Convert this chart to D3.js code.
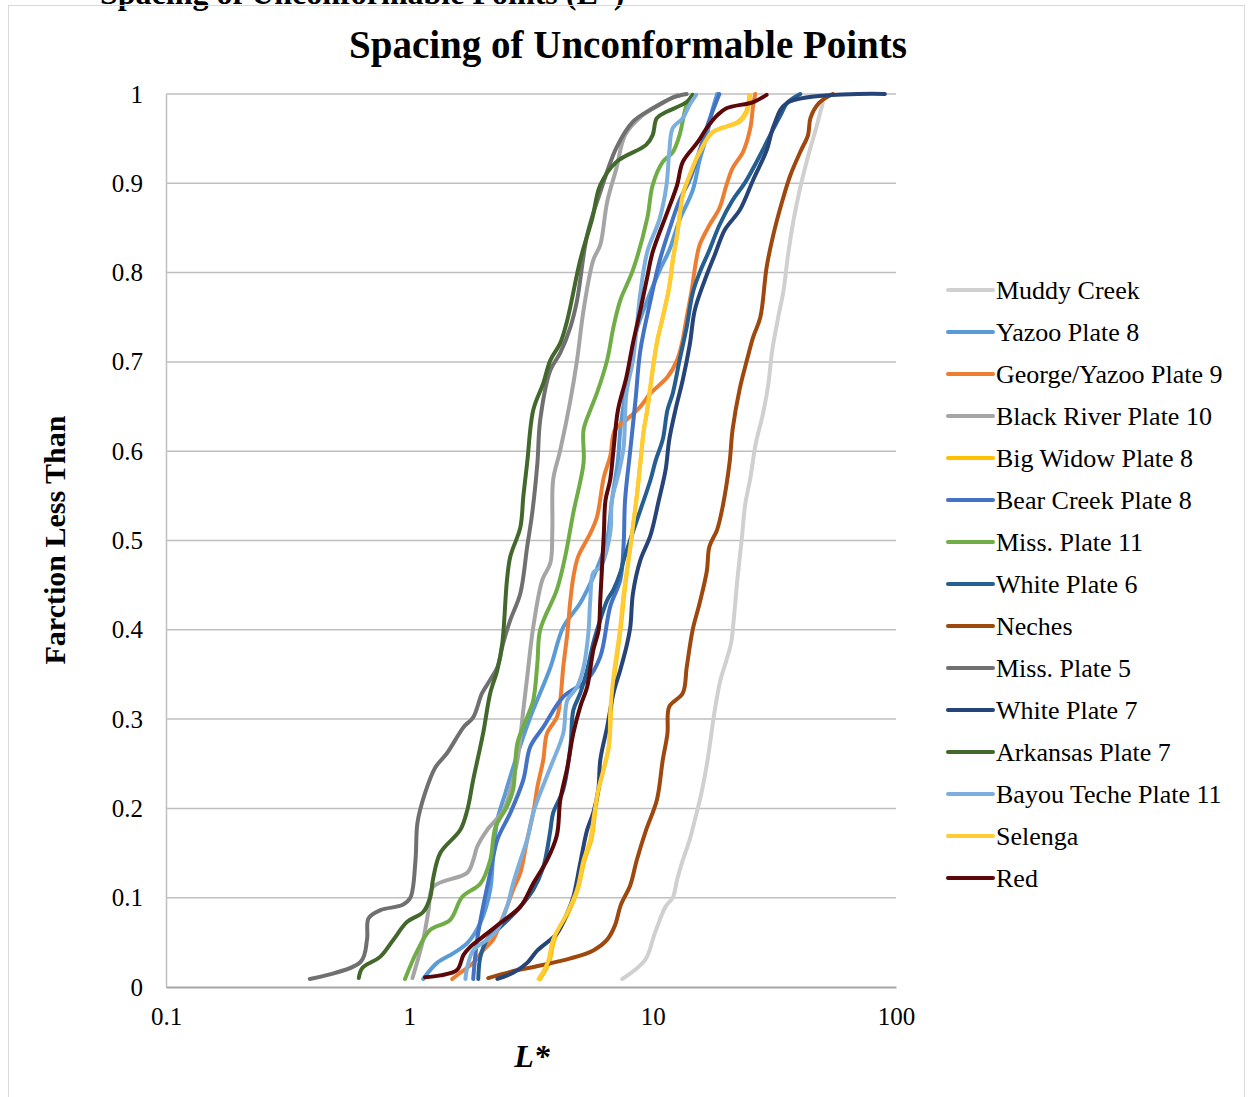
<!DOCTYPE html>
<html>
<head>
<meta charset="utf-8">
<script src="https://cdn.jsdelivr.net/npm/d3@7"></script>
<style>
  html, body { margin: 0; padding: 0; background: #fff; }
  svg { display: block; font-family: "Liberation Serif", "Times New Roman", serif; }
</style>
</head>
<body>
<div id="chart"></div>
<script>
// Series values: [L*, fraction less than]
const muddyCreek = [[7.5,0.009],[9.3,0.03],[10.2,0.06],[11.3,0.09],[12.1,0.1],[12.6,0.12],[13.3,0.142],[14.2,0.165],[15.0,0.19],[15.8,0.215],[16.6,0.245],[17.3,0.277],[18.0,0.31],[19.0,0.344],[20.1,0.366],[21.0,0.385],[21.6,0.415],[22.3,0.457],[23.2,0.5],[24.0,0.54],[25.2,0.57],[26.5,0.608],[28.3,0.64],[29.8,0.673],[31.0,0.713],[32.8,0.75],[34.5,0.78],[36.0,0.82],[38.0,0.86],[40.4,0.895],[44.0,0.935],[47.0,0.962],[48.9,0.98],[50.0,0.99]];
const yazooPlate8 = [[1.14,0.009],[1.30,0.027],[1.52,0.038],[1.73,0.049],[1.96,0.072],[2.15,0.109],[2.21,0.146],[2.30,0.187],[2.48,0.217],[2.73,0.254],[3.14,0.302],[3.80,0.358],[4.29,0.403],[5.04,0.43],[5.7,0.459],[6.09,0.478],[6.5,0.501],[6.8,0.545],[7.2,0.59],[7.36,0.624],[7.7,0.663],[8.09,0.702],[8.6,0.736],[9.5,0.769],[10.7,0.803],[11.7,0.825],[12.9,0.859],[14.6,0.892],[15.6,0.926],[16.7,0.954],[17.6,0.982],[18.4,1.0]];
const georgeYazooPlate9 = [[1.50,0.009],[1.62,0.016],[1.83,0.027],[2.01,0.041],[2.21,0.053],[2.37,0.072],[2.52,0.09],[2.67,0.109],[2.86,0.128],[3.05,0.165],[3.23,0.195],[3.36,0.224],[3.55,0.254],[3.68,0.284],[4.04,0.302],[4.17,0.321],[4.29,0.358],[4.46,0.396],[4.59,0.433],[4.72,0.459],[4.94,0.482],[5.54,0.508],[5.9,0.526],[6.3,0.571],[6.69,0.594],[7.0,0.624],[7.8,0.635],[8.9,0.65],[9.8,0.665],[11.5,0.683],[12.6,0.702],[13.2,0.721],[13.8,0.75],[14.4,0.777],[15.1,0.814],[15.6,0.831],[17.1,0.853],[18.8,0.872],[20.1,0.898],[21.3,0.917],[23.5,0.935],[25.2,0.962],[25.9,0.988],[26.4,1.0]];
const blackRiverPlate10 = [[1.03,0.01],[1.14,0.053],[1.2,0.086],[1.25,0.112],[1.73,0.128],[1.83,0.142],[1.90,0.157],[2.09,0.176],[2.44,0.198],[2.60,0.221],[2.78,0.254],[2.94,0.31],[3.05,0.347],[3.23,0.403],[3.52,0.456],[3.80,0.475],[3.87,0.512],[3.9,0.568],[4.17,0.601],[4.59,0.657],[4.89,0.702],[5.2,0.758],[5.7,0.814],[6.09,0.831],[6.5,0.879],[7.1,0.917],[7.7,0.954],[8.9,0.974],[10.7,0.988],[12.6,0.999]];
const bigWidowPlate8 = [[3.45,0.009],[3.75,0.027],[3.95,0.053],[4.5,0.083],[4.92,0.109],[5.25,0.142],[5.6,0.165],[5.8,0.195],[6.0,0.221],[6.6,0.269],[6.75,0.31],[6.95,0.347],[7.4,0.403],[7.65,0.441],[8.1,0.493],[8.6,0.549],[8.9,0.587],[9.2,0.624],[9.5,0.646],[10.0,0.691],[10.4,0.721],[11.0,0.75],[11.7,0.784],[12.1,0.814],[12.6,0.842],[13.3,0.887],[14.2,0.909],[15.6,0.935],[17.6,0.957],[22.5,0.969],[24.2,0.98],[25.0,0.999]];
const bearCreekPlate8 = [[1.83,0.009],[1.90,0.053],[2.01,0.09],[2.15,0.128],[2.30,0.165],[2.6,0.195],[2.94,0.232],[3.14,0.269],[3.55,0.291],[4.29,0.325],[5.38,0.344],[6.09,0.37],[6.69,0.426],[7.36,0.456],[7.6,0.497],[7.7,0.545],[8.09,0.601],[8.5,0.657],[8.9,0.713],[9.8,0.769],[10.7,0.814],[11.7,0.848],[12.9,0.881],[14.2,0.904],[15.6,0.937],[17.1,0.971],[18.8,1.0]];
const missPlate11 = [[0.96,0.009],[1.08,0.041],[1.22,0.064],[1.47,0.075],[1.65,0.101],[1.96,0.116],[2.15,0.142],[2.26,0.179],[2.52,0.202],[2.67,0.221],[2.78,0.273],[3.05,0.302],[3.23,0.321],[3.36,0.363],[3.45,0.4],[4.04,0.445],[4.37,0.482],[4.72,0.531],[5.2,0.587],[5.2,0.624],[5.54,0.646],[5.9,0.665],[6.5,0.702],[6.9,0.739],[7.36,0.769],[8.3,0.803],[9.5,0.861],[10.0,0.898],[11.0,0.924],[12.1,0.935],[12.9,0.954],[13.8,0.988],[14.6,0.999]];
const whitePlate6 = [[1.92,0.009],[1.96,0.034],[2.09,0.053],[2.30,0.064],[2.60,0.078],[2.86,0.09],[3.23,0.109],[3.55,0.134],[3.68,0.153],[3.80,0.176],[3.9,0.195],[4.29,0.221],[4.59,0.269],[4.72,0.31],[5.04,0.329],[5.38,0.355],[5.7,0.385],[6.09,0.411],[6.5,0.433],[6.9,0.445],[7.36,0.464],[7.6,0.478],[8.09,0.501],[8.9,0.534],[9.8,0.568],[10.3,0.59],[11.0,0.613],[11.5,0.646],[12.1,0.665],[12.9,0.702],[13.8,0.739],[14.6,0.777],[15.6,0.8],[17.1,0.825],[18.8,0.853],[21.3,0.881],[24.0,0.901],[27.7,0.932],[30.4,0.954],[33.5,0.976],[35.7,0.99],[40.4,1.0]];
const neches = [[2.11,0.01],[2.6,0.017],[3.45,0.024],[4.59,0.032],[5.7,0.041],[6.5,0.053],[7.0,0.069],[7.4,0.092],[8.09,0.114],[8.6,0.142],[9.4,0.176],[10.4,0.209],[11.0,0.254],[11.5,0.284],[11.7,0.314],[13.3,0.329],[13.8,0.358],[14.6,0.4],[15.6,0.43],[16.7,0.466],[17.1,0.493],[18.4,0.512],[19.4,0.538],[20.7,0.587],[21.3,0.624],[22.8,0.67],[24.4,0.702],[25.9,0.728],[27.7,0.75],[29.4,0.806],[31.3,0.842],[34.0,0.879],[36.8,0.909],[40.4,0.935],[43.5,0.954],[44.5,0.973],[48.3,0.99],[55.0,1.0]];
const missPlate5 = [[0.39,0.009],[0.63,0.028],[0.67,0.053],[0.68,0.077],[0.76,0.086],[0.94,0.092],[1.01,0.1],[1.06,0.142],[1.08,0.184],[1.16,0.217],[1.28,0.246],[1.43,0.262],[1.67,0.291],[1.83,0.302],[1.99,0.329],[2.15,0.344],[2.30,0.358],[2.43,0.385],[2.60,0.411],[2.86,0.441],[3.05,0.493],[3.20,0.531],[3.36,0.587],[3.45,0.635],[3.80,0.691],[4.17,0.71],[4.59,0.739],[4.89,0.769],[5.38,0.842],[6.09,0.89],[7.1,0.94],[8.3,0.969],[10.0,0.984],[12.1,0.996],[13.8,1.0]];
const whitePlate7 = [[2.30,0.009],[2.67,0.016],[3.05,0.027],[3.36,0.041],[4.04,0.06],[4.46,0.083],[4.72,0.101],[5.04,0.139],[5.38,0.176],[5.7,0.195],[5.98,0.221],[6.09,0.254],[6.5,0.291],[6.9,0.329],[7.36,0.355],[7.8,0.381],[8.09,0.403],[8.3,0.441],[8.9,0.478],[9.8,0.506],[10.6,0.545],[11.3,0.579],[11.7,0.613],[12.4,0.646],[13.3,0.68],[14.2,0.719],[14.9,0.758],[16.4,0.792],[18.0,0.82],[19.8,0.848],[22.8,0.87],[25.9,0.904],[29.4,0.937],[31.5,0.965],[35.7,0.99],[90.0,1.0]];
const arkansasPlate7 = [[0.62,0.01],[0.64,0.021],[0.76,0.034],[0.86,0.053],[0.98,0.073],[1.14,0.084],[1.22,0.101],[1.25,0.12],[1.34,0.15],[1.62,0.176],[1.73,0.198],[1.83,0.232],[2.01,0.284],[2.15,0.329],[2.30,0.355],[2.41,0.385],[2.52,0.456],[2.60,0.482],[2.86,0.515],[2.94,0.549],[3.05,0.587],[3.23,0.646],[3.55,0.676],[3.80,0.702],[4.17,0.721],[4.46,0.747],[5.04,0.814],[5.65,0.861],[6.09,0.898],[7.1,0.924],[9.4,0.943],[10.0,0.954],[10.4,0.973],[11.4,0.98],[13.8,0.991],[14.6,0.999]];
const bayouTechePlate11 = [[1.70,0.009],[1.73,0.022],[1.83,0.041],[2.09,0.053],[2.30,0.064],[2.52,0.09],[2.67,0.116],[2.86,0.142],[3.05,0.165],[3.23,0.195],[3.36,0.209],[3.80,0.246],[4.29,0.284],[4.46,0.321],[4.89,0.336],[5.2,0.358],[5.44,0.396],[5.54,0.433],[5.7,0.464],[6.09,0.47],[6.69,0.508],[6.8,0.545],[7.3,0.579],[7.6,0.605],[7.8,0.665],[8.3,0.702],[8.6,0.739],[8.9,0.777],[9.5,0.823],[10.7,0.861],[11.4,0.898],[11.7,0.935],[12.1,0.962],[13.3,0.973],[14.2,0.988],[15.1,0.999]];
const selenga = [[3.4,0.009],[3.7,0.027],[3.9,0.053],[4.46,0.083],[4.89,0.109],[5.2,0.142],[5.54,0.165],[5.76,0.195],[5.98,0.221],[6.6,0.269],[6.7,0.31],[6.9,0.347],[7.36,0.403],[7.6,0.441],[8.09,0.493],[8.6,0.549],[8.9,0.587],[9.2,0.624],[9.5,0.646],[10.0,0.691],[10.4,0.721],[11.0,0.75],[11.7,0.784],[12.1,0.814],[12.6,0.842],[13.3,0.887],[14.2,0.909],[15.6,0.935],[17.6,0.957],[22.8,0.969],[24.4,0.98],[25.2,0.999]];
const red = [[1.16,0.011],[1.34,0.013],[1.57,0.019],[1.67,0.036],[1.78,0.045],[2.09,0.06],[2.37,0.072],[2.86,0.09],[3.23,0.116],[3.68,0.142],[4.04,0.17],[4.17,0.209],[4.46,0.246],[4.72,0.284],[5.04,0.314],[5.38,0.336],[5.7,0.377],[6.0,0.4],[6.09,0.433],[6.3,0.508],[6.4,0.545],[6.69,0.568],[6.9,0.601],[7.2,0.646],[7.8,0.683],[8.3,0.721],[8.9,0.758],[9.5,0.795],[10.0,0.823],[11.5,0.868],[12.6,0.898],[13.3,0.924],[15.3,0.946],[16.7,0.962],[18.4,0.976],[20.1,0.984],[25.9,0.991],[29.4,0.999]];

const seriesNames = ['Muddy Creek', 'Yazoo Plate 8', 'George/Yazoo Plate 9', 'Black River Plate 10', 'Big Widow Plate 8',
  'Bear Creek Plate 8', 'Miss. Plate 11', 'White Plate 6', 'Neches', 'Miss. Plate 5', 'White Plate 7',
  'Arkansas Plate 7', 'Bayou Teche Plate 11', 'Selenga', 'Red'];
const seriesValues = [muddyCreek, yazooPlate8, georgeYazooPlate9, blackRiverPlate10, bigWidowPlate8,
  bearCreekPlate8, missPlate11, whitePlate6, neches, missPlate5, whitePlate7,
  arkansasPlate7, bayouTechePlate11, selenga, red];
const seriesColors = ['#d0d0d0', '#5b9bd5', '#ed7d31', '#a5a5a5', '#ffc000',
  '#4472c4', '#70ad47', '#255e91', '#9e480e', '#707070', '#264478',
  '#43682b', '#7cafdd', '#ffcd33', '#5c0808'];

const xTicks = [0.1, 1, 10, 100];
const yTicks = [0, 0.1, 0.2, 0.3, 0.4, 0.5, 0.6, 0.7, 0.8, 0.9, 1];

const width = 1248, height = 1097;
const plot = { left: 166, right: 896, top: 94, bottom: 987 };

const svg = d3.select('#chart').append('svg')
  .attr('width', width)
  .attr('height', height);

// Caption cut off at the top of the image
svg.append('text')
  .attr('x', 100).attr('y', 4)
  .attr('font-size', 32).attr('font-weight', 'bold')
  .attr('fill', '#000')
  .text('Spacing of Unconformable Points (L*)');

// Chart area border
svg.append('rect')
  .attr('x', 8.5).attr('y', 5.5)
  .attr('width', 1236).attr('height', 1100)
  .attr('fill', 'none')
  .attr('stroke', '#d9d9d9');

const x = d3.scaleLog().domain([0.1, 100]).range([plot.left, plot.right]);
const y = d3.scaleLinear().domain([0, 1]).range([plot.bottom, plot.top]);

// Gridlines
svg.append('g')
  .selectAll('line')
  .data(yTicks.filter(d => d > 0))
  .join('line')
  .attr('x1', plot.left).attr('x2', plot.right)
  .attr('y1', d => y(d)).attr('y2', d => y(d))
  .attr('stroke', '#bfbfbf')
  .attr('stroke-width', 1.5);

// Y axis
const yAxis = svg.append('g')
  .attr('transform', `translate(${plot.left},0)`)
  .call(d3.axisLeft(y).tickValues(yTicks).tickFormat(d3.format('~g')).tickSize(0).tickPadding(23));
yAxis.select('.domain').attr('stroke', '#bfbfbf').attr('stroke-width', 1.5);
yAxis.selectAll('text')
  .attr('font-family', '"Liberation Serif", serif')
  .attr('font-size', 25)
  .attr('fill', '#000');

// X axis
const xAxis = svg.append('g')
  .attr('transform', `translate(0,${plot.bottom})`)
  .call(d3.axisBottom(x).tickValues(xTicks).tickFormat(d3.format('~g')).tickSize(0).tickPadding(20));
xAxis.select('.domain').attr('stroke', '#a6a6a6').attr('stroke-width', 2);
xAxis.selectAll('text')
  .attr('font-family', '"Liberation Serif", serif')
  .attr('font-size', 25)
  .attr('fill', '#000');

// Lines
const line = d3.line()
  .x(d => x(d[0]))
  .y(d => y(d[1]))
  .curve(d3.curveCatmullRom.alpha(0.5));

svg.append('g')
  .selectAll('path')
  .data(seriesValues)
  .join('path')
  .attr('d', d => line(d))
  .attr('fill', 'none')
  .attr('stroke', (d, i) => seriesColors[i])
  .attr('stroke-width', 4)
  .attr('stroke-linejoin', 'round')
  .attr('stroke-linecap', 'round');

// Title
svg.append('text')
  .attr('x', 628).attr('y', 58)
  .attr('text-anchor', 'middle')
  .attr('font-size', 39).attr('font-weight', 'bold')
  .text('Spacing of Unconformable Points');

// Axis titles
svg.append('text')
  .attr('transform', 'translate(65,540) rotate(-90)')
  .attr('text-anchor', 'middle')
  .attr('font-size', 30).attr('font-weight', 'bold')
  .text('Farction Less Than');

svg.append('text')
  .attr('x', 532).attr('y', 1067)
  .attr('text-anchor', 'middle')
  .attr('font-size', 32).attr('font-weight', 'bold').attr('font-style', 'italic')
  .text('L*');

// Legend
const legend = svg.append('g')
  .selectAll('g')
  .data(seriesNames)
  .join('g')
  .attr('transform', (d, i) => `translate(948,${290 + i * 42})`);

legend.append('line')
  .attr('x1', 0).attr('x2', 45)
  .attr('stroke', (d, i) => seriesColors[i])
  .attr('stroke-width', 4)
  .attr('stroke-linecap', 'round');

legend.append('text')
  .attr('x', 48).attr('dy', '0.35em')
  .attr('font-size', 26)
  .attr('fill', '#000')
  .text(d => d);
</script>
</body>
</html>
